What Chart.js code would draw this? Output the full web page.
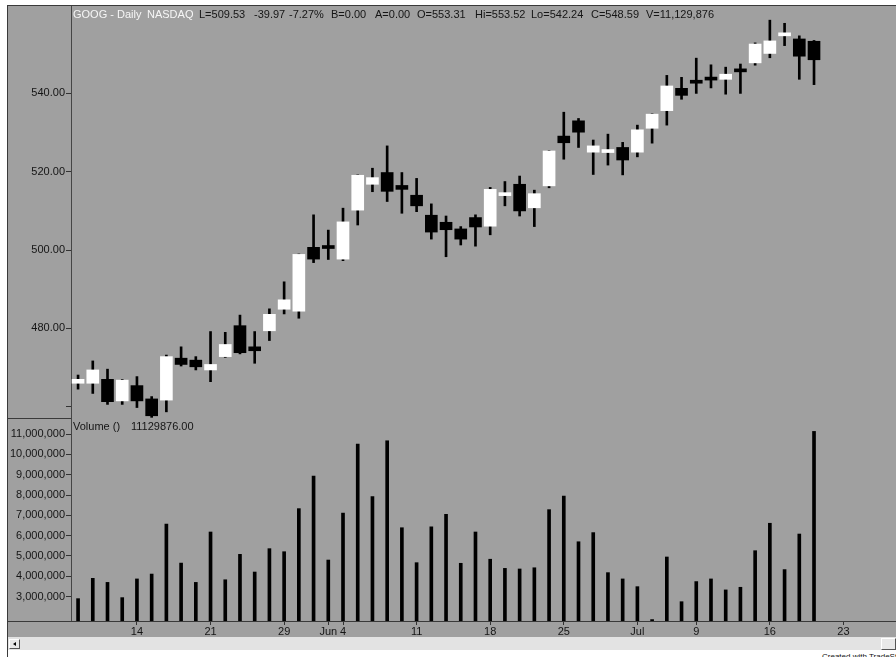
<!DOCTYPE html>
<html>
<head>
<meta charset="utf-8">
<title>GOOG - Daily</title>
<script src="https://cdn.jsdelivr.net/npm/chart.js@4.4.1/dist/chart.umd.min.js"></script>
<style>
    body { margin: 0; background: #fff; font-family: Arial, "Liberation Sans", sans-serif; }
    #tela { position: relative; width: 896px; height: 657px; overflow: hidden; }
    .fundo { position: absolute; left: 7px; top: 5px; width: 889px; height: 632px; background: #a0a0a0; }
    .linha { position: absolute; background: #3a3a3a; z-index: 3; }
    canvas { position: absolute; left: 7px; z-index: 1; }
    #graficoPrecos { top: 5px; }
    #graficoVolume { top: 418px; }
    .rotulo { position: absolute; font-size: 11px; line-height: 13px; white-space: pre; color: #151515; z-index: 2; }
    .claro { color: #f6f6f6; }
    .rolagem { position: absolute; left: 8px; top: 637px; width: 888px; height: 13px; background: #e3e3e3; }
    .botao { position: absolute; background: #e8e8e8; border-top: 1px solid #fff; border-left: 1px solid #fff;
             border-right: 1px solid #555; border-bottom: 1px solid #555; box-sizing: border-box; }
    .seta { position: absolute; left: 3px; top: 2px; width: 0; height: 0;
            border-top: 2px solid transparent; border-bottom: 2px solid transparent; border-right: 3px solid #000; }
    .credito { position: absolute; left: 822px; top: 652px; font-size: 8px; color: #111; white-space: nowrap; }
</style>
</head>
<body>
<div id="tela">
    <div class="fundo"></div>
    <canvas id="graficoPrecos" width="889" height="413"></canvas>
    <canvas id="graficoVolume" width="889" height="219"></canvas>

    <!-- moldura -->
    <div class="linha" style="left:7px; top:5px; width:889px; height:1px;"></div>
    <div class="linha" style="left:7px; top:5px; width:1px; height:652px;"></div>
    <div class="linha" style="left:7px; top:418px; width:64px; height:1px;"></div>
    <div class="linha" style="left:7px; top:621px; width:889px; height:1px;"></div>

    <!-- cabeçalho -->
    <span class="rotulo claro" style="left:73px; top:8px;">GOOG - Daily</span>
    <span class="rotulo claro" style="left:147px; top:8px;">NASDAQ</span>
    <span class="rotulo" style="left:199px; top:8px;">L=509.53</span>
    <span class="rotulo" style="left:254px; top:8px;">-39.97</span>
    <span class="rotulo" style="left:289px; top:8px;">-7.27%</span>
    <span class="rotulo" style="left:331px; top:8px;">B=0.00</span>
    <span class="rotulo" style="left:375px; top:8px;">A=0.00</span>
    <span class="rotulo" style="left:417px; top:8px;">O=553.31</span>
    <span class="rotulo" style="left:475px; top:8px;">Hi=553.52</span>
    <span class="rotulo" style="left:531px; top:8px;">Lo=542.24</span>
    <span class="rotulo" style="left:591px; top:8px;">C=548.59</span>
    <span class="rotulo" style="left:646px; top:8px;">V=11,129,876</span>

    <span class="rotulo" style="left:73px; top:420px;">Volume ()</span>
    <span class="rotulo" style="left:131px; top:420px;">11129876.00</span>

    <!-- barra de rolagem -->
    <div class="rolagem"></div>
    <div class="botao" style="left:9px; top:639px; width:11px; height:10px;"><div class="seta"></div></div>
    <div class="botao" style="left:881px; top:638px; width:15px; height:12px;"></div>
    <div class="credito">Created with TradeStation</div>
</div>

<script>
// Pregões de 8 mai a 19 jul (um valor por dia)
const aberturas = [466.0, 466.0, 467.0, 461.5, 465.4, 462.0, 461.7, 472.4, 471.9, 469.4,
    472.8, 480.7, 475.3, 479.4, 484.9, 484.4, 500.7, 500.9, 497.7, 510.2,
    516.8, 519.8, 516.5, 514.0, 508.9, 507.1, 505.4, 508.3, 506.1, 513.9,
    516.8, 510.8, 516.4, 529.1, 533.0, 525.0, 524.9, 526.2, 525.0, 531.1,
    535.6, 541.3, 543.2, 543.9, 543.6, 546.2, 547.8, 550.2, 554.7, 553.9, 553.31];
const maximas = [468.1, 471.7, 469.6, 467.0, 467.7, 462.6, 473.2, 475.3, 472.8, 479.2,
    479.0, 483.4, 479.2, 485.0, 491.9, 499.0, 509.0, 505.1, 510.7, 519.2,
    520.9, 526.6, 519.8, 518.3, 511.8, 508.7, 506.0, 509.0, 516.0, 517.5,
    518.9, 515.3, 525.4, 535.2, 533.6, 528.1, 529.6, 527.5, 531.9, 534.8,
    544.6, 544.1, 549.0, 547.3, 546.7, 547.5, 552.9, 558.7, 557.9, 554.7, 553.52];
const minimas = [464.5, 463.4, 460.6, 460.6, 459.8, 457.3, 458.7, 470.4, 469.4, 466.4,
    472.6, 473.5, 471.1, 476.9, 483.7, 482.6, 496.8, 497.6, 497.3, 506.4,
    514.9, 512.4, 509.4, 509.8, 502.8, 498.3, 501.3, 501.0, 503.9, 511.3,
    508.7, 506.0, 515.9, 523.2, 526.2, 519.3, 521.7, 519.2, 523.8, 527.3,
    531.9, 538.5, 540.0, 541.4, 539.8, 540.0, 547.2, 549.1, 552.2, 543.6, 542.24];
const fechamentos = [467.0, 469.4, 461.3, 466.8, 461.5, 457.7, 472.8, 470.8, 470.2, 470.8,
    475.9, 473.8, 474.3, 483.6, 487.3, 498.9, 497.7, 500.4, 507.2, 519.1,
    518.5, 515.0, 515.5, 511.3, 504.6, 505.2, 502.8, 505.9, 515.5, 514.6,
    510.0, 514.4, 525.3, 527.4, 530.1, 526.6, 525.3, 523.0, 530.7, 534.7,
    541.9, 539.5, 542.6, 543.4, 544.9, 545.5, 552.6, 553.4, 555.4, 549.5, 548.59];
const volumes = [2900000, 3900000, 3700000, 2950000, 3870000, 4110000, 6570000, 4650000, 3700000, 6180000,
    3830000, 5080000, 4210000, 5360000, 5210000, 7330000, 8930000, 4800000, 7110000, 10510000,
    7920000, 10670000, 6390000, 4670000, 6430000, 7050000, 4640000, 6180000, 4840000, 4390000,
    4360000, 4420000, 7280000, 7950000, 5700000, 6150000, 4180000, 3870000, 3490000, 1870000,
    4950000, 2750000, 3740000, 3870000, 3330000, 3460000, 5260000, 6610000, 4330000, 6080000, 11129876];

// Eixo de datas: posição do pregão e texto
const posicoesDatas = [4, 9, 14, 17, 18, 23, 28, 33, 38, 42, 47, 52];
const rotulosDatas = ['14', '21', '29', 'Jun', '4', '11', '18', '25', 'Jul', '9', '16', '23'];

const ticksPreco = [460, 480, 500, 520, 540];
const ticksPrecoComTexto = [480, 500, 520, 540];
const ticksVolume = [3000000, 4000000, 5000000, 6000000, 7000000, 8000000, 9000000, 10000000, 11000000];

Chart.defaults.font.family = 'Arial, "Liberation Sans", sans-serif';
Chart.defaults.font.size = 11;
Chart.defaults.color = '#151515';

const corTexto = '#151515';
const corEixo = '#454545';

function eixoX(visivel) {
    return {
        type: 'linear',
        display: visivel,
        min: -0.48,
        max: 55.57,
        offset: false,
        grid: { offset: false, drawOnChartArea: false, drawTicks: true, tickLength: 4, color: '#333' },
        border: { display: false },
        afterBuildTicks: eixo => { eixo.ticks = posicoesDatas.map(v => ({ value: v })); },
        afterFit: eixo => {
            eixo.height = visivel ? 16 : 0;
            eixo.paddingLeft = 0;
            eixo.paddingRight = 0;
        },
        ticks: {
            autoSkip: false,
            maxRotation: 0,
            minRotation: 0,
            padding: 0,
            color: corTexto,
            callback: v => rotulosDatas[posicoesDatas.indexOf(v)]
        }
    };
}

function eixoY(min, max, ticks, formatar) {
    return {
        position: 'left',
        min: min,
        max: max,
        grid: { drawOnChartArea: false, drawTicks: true, tickLength: 5, color: '#333' },
        border: { display: true, color: corEixo, width: 1 },
        afterBuildTicks: eixo => { eixo.ticks = ticks.map(v => ({ value: v })); },
        afterFit: eixo => { eixo.width = 64; eixo.paddingTop = 0; eixo.paddingBottom = 0; },
        ticks: { padding: 1, color: corTexto, callback: formatar }
    };
}

const opcoesBase = {
    responsive: false,
    animation: false,
    events: [],
    layout: { padding: 0 },
    plugins: { legend: { display: false }, tooltip: { enabled: false } }
};

// Gráfico de preços (candles)
const ctxPrecos = document.getElementById('graficoPrecos').getContext('2d');
window.precosChart = new Chart(ctxPrecos, {
    type: 'bar',
    data: {
        datasets: [{
            label: 'Corpo',
            order: 0,
            grouped: false,
            data: aberturas.map((a, i) => ({ x: i, y: [a, fechamentos[i]] })),
            backgroundColor: aberturas.map((a, i) => fechamentos[i] >= a ? '#ffffff' : '#000000'),
            borderWidth: 0,
            barThickness: 12,
            minBarLength: 3
        }, {
            label: 'Sombra',
            order: 1,
            grouped: false,
            data: minimas.map((m, i) => ({ x: i, y: [m, maximas[i]] })),
            backgroundColor: '#000000',
            borderWidth: 0,
            barThickness: 2
        }]
    },
    options: {
        ...opcoesBase,
        scales: {
            x: eixoX(false),
            y: eixoY(457.13, 562.57, ticksPreco,
                v => ticksPrecoComTexto.includes(v) ? v.toFixed(2) : '')
        }
    }
});

// Gráfico de volume
const ctxVolume = document.getElementById('graficoVolume').getContext('2d');
window.volumeChart = new Chart(ctxVolume, {
    type: 'bar',
    data: {
        datasets: [{
            label: 'Volume',
            grouped: false,
            data: volumes.map((v, i) => ({ x: i, y: v })),
            backgroundColor: '#000000',
            borderWidth: 0,
            barThickness: 3
        }]
    },
    options: {
        ...opcoesBase,
        scales: {
            x: eixoX(true),
            y: eixoY(1800000, 11790000, ticksVolume, v => v.toLocaleString('en-US'))
        }
    }
});
</script>
</body>
</html>
